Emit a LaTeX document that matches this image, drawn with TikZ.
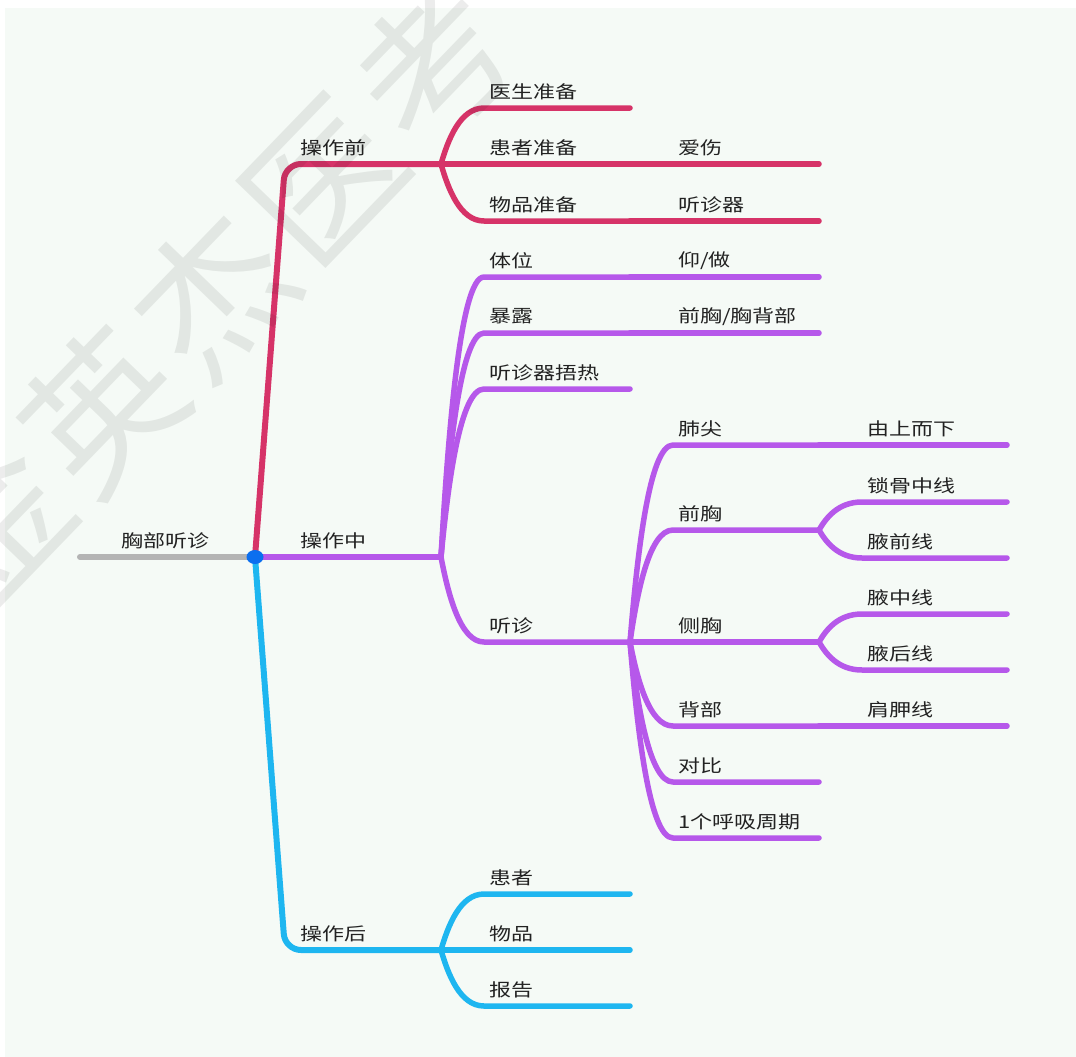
\documentclass[tikz,border=0pt]{standalone}
\usepackage{fontspec}
\usetikzlibrary{calc}
\newfontfamily\cjk[FakeStretch=1.25]{Noto Sans CJK SC}
\newfontfamily\wmfont[LetterSpace=5]{Noto Sans CJK SC}
\definecolor{bgc}{HTML}{F5FAF6}
\definecolor{redc}{RGB}{214,51,104}
\definecolor{purc}{RGB}{182,88,234}
\definecolor{bluc}{RGB}{30,182,240}
\definecolor{dotc}{RGB}{11,111,239}
\definecolor{rootc}{RGB}{180,180,180}
\definecolor{txtc}{HTML}{222222}
\newcommand\mmtopic[5]{%
  \coordinate (#1-s) at (#2,#4);
  \coordinate (#1-e) at (#3,#4);
  \node[lbl] (#1) at ({#2+5},{#4-16.5}) {#5};}
\begin{document}
\begin{tikzpicture}[x=1pt,y=-1pt,
  lbl/.style={anchor=west,inner sep=0pt,text=txtc,font=\cjk\fontsize{17.6}{20}\selectfont},
  edge/.style={line width=5.5pt,line cap=round,line join=round},
  trunk/.style={line width=6pt,line cap=round,line join=round,rounded corners=16pt},
  branch/.style={to path={let \p1=(\tikztostart),\p2=(\tikztotarget) in
     .. controls (\x1+7pt,{\y1+0.43*(\y2-\y1)}) and (\x1+19pt,\y2) .. (\tikztotarget)}},
  wm/.style={text=black,text opacity=0.075,inner sep=0pt,font=\wmfont\fontsize{152}{152}\selectfont}
]
% background
\fill[white] (0,0) rectangle (1076,1057);
\fill[bgc] (5,8) rectangle (1076,1057);
\useasboundingbox (0,0) rectangle (1076,1057);

% root
\coordinate (dot) at (255,557);
\coordinate (root-s) at (80,557);
\node[lbl,anchor=center] (root) at (165.5,540.5) {胸部听诊};

% level 1
\coordinate (pre-k) at (285,164);
\coordinate (pre-e) at (441,164);
\node[lbl] (pre) at (300,148) {操作前};
\coordinate (mid-e) at (441,557);
\node[lbl] (mid) at (300,540.5) {操作中};
\coordinate (post-k) at (285,950);
\coordinate (post-e) at (441,950);
\node[lbl] (post) at (300,934) {操作后};

% level 2
\mmtopic{doc}{484}{630}{108}{医生准备}
\mmtopic{pat}{484}{630}{164}{患者准备}
\mmtopic{item}{484}{630}{221}{物品准备}
\mmtopic{tw}{484}{630}{277}{体位}
\mmtopic{bl}{484}{630}{333}{暴露}
\mmtopic{wr}{484}{630}{389}{听诊器捂热}
\mmtopic{tz}{484}{630}{642}{听诊}
\mmtopic{hz}{484}{630}{894}{患者}
\mmtopic{wp}{484}{630}{950}{物品}
\mmtopic{bg}{484}{630}{1006}{报告}

% level 3
\mmtopic{as}{673}{819}{164}{爱伤}
\mmtopic{tzq}{673}{819}{221}{听诊器}
\mmtopic{yz}{673}{819}{277}{仰/做}
\mmtopic{qxb}{673}{819}{333}{前胸/胸背部}
\mmtopic{fj}{673}{819}{445}{肺尖}
\mmtopic{qx}{673}{819}{530}{前胸}
\mmtopic{cx}{673}{819}{642}{侧胸}
\mmtopic{bb}{673}{819}{726}{背部}
\mmtopic{db}{673}{819}{782}{对比}
\mmtopic{hx}{673}{819}{838}{1个呼吸周期}

% level 4
\mmtopic{sx}{862}{1007}{445}{由上而下}
\mmtopic{sg}{862}{1007}{502}{锁骨中线}
\mmtopic{yq}{862}{1007}{558}{腋前线}
\mmtopic{yzx}{862}{1007}{614}{腋中线}
\mmtopic{yh}{862}{1007}{670}{腋后线}
\mmtopic{jj}{862}{1007}{726}{肩胛线}

% connectors: root and level 1
\draw[trunk,rootc] (root-s) -- (dot);
\draw[trunk,redc] (dot) -- (pre-k) -- (pre-e);
\draw[trunk,bluc] (dot) -- (post-k) -- (post-e);
\draw[trunk,purc] (dot) -- (mid-e);

% red branch
\draw[edge,redc] (pre-e) to[branch] (doc-s) -- (doc-e);
\draw[edge,redc] (pre-e) to[branch] (pat-s) -- (pat-e);
\draw[edge,redc] (pre-e) to[branch] (item-s) -- (item-e);
\draw[edge,redc] (pat-e) to[branch] (as-s) -- (as-e);
\draw[edge,redc] (item-e) to[branch] (tzq-s) -- (tzq-e);

% purple branch
\draw[edge,purc] (mid-e) to[branch] (tw-s) -- (tw-e);
\draw[edge,purc] (mid-e) to[branch] (bl-s) -- (bl-e);
\draw[edge,purc] (mid-e) to[branch] (wr-s) -- (wr-e);
\draw[edge,purc] (mid-e) to[branch] (tz-s) -- (tz-e);
\draw[edge,purc] (tw-e) to[branch] (yz-s) -- (yz-e);
\draw[edge,purc] (bl-e) to[branch] (qxb-s) -- (qxb-e);
\draw[edge,purc] (tz-e) to[branch] (fj-s) -- (fj-e);
\draw[edge,purc] (tz-e) to[branch] (qx-s) -- (qx-e);
\draw[edge,purc] (tz-e) to[branch] (cx-s) -- (cx-e);
\draw[edge,purc] (tz-e) to[branch] (bb-s) -- (bb-e);
\draw[edge,purc] (tz-e) to[branch] (db-s) -- (db-e);
\draw[edge,purc] (tz-e) to[branch] (hx-s) -- (hx-e);
\draw[edge,purc] (fj-e) to[branch] (sx-s) -- (sx-e);
\draw[edge,purc] (qx-e) to[branch] (sg-s) -- (sg-e);
\draw[edge,purc] (qx-e) to[branch] (yq-s) -- (yq-e);
\draw[edge,purc] (cx-e) to[branch] (yzx-s) -- (yzx-e);
\draw[edge,purc] (cx-e) to[branch] (yh-s) -- (yh-e);
\draw[edge,purc] (bb-e) to[branch] (jj-s) -- (jj-e);

% blue branch
\draw[edge,bluc] (post-e) to[branch] (hz-s) -- (hz-e);
\draw[edge,bluc] (post-e) to[branch] (wp-s) -- (wp-e);
\draw[edge,bluc] (post-e) to[branch] (bg-s) -- (bg-e);

% central dot
\fill[dotc] (dot) ellipse [x radius=8.5, y radius=7];

% watermark
\node[wm,rotate=46] (mark) at (212,294) {金英杰医考};
\end{tikzpicture}
\end{document}
